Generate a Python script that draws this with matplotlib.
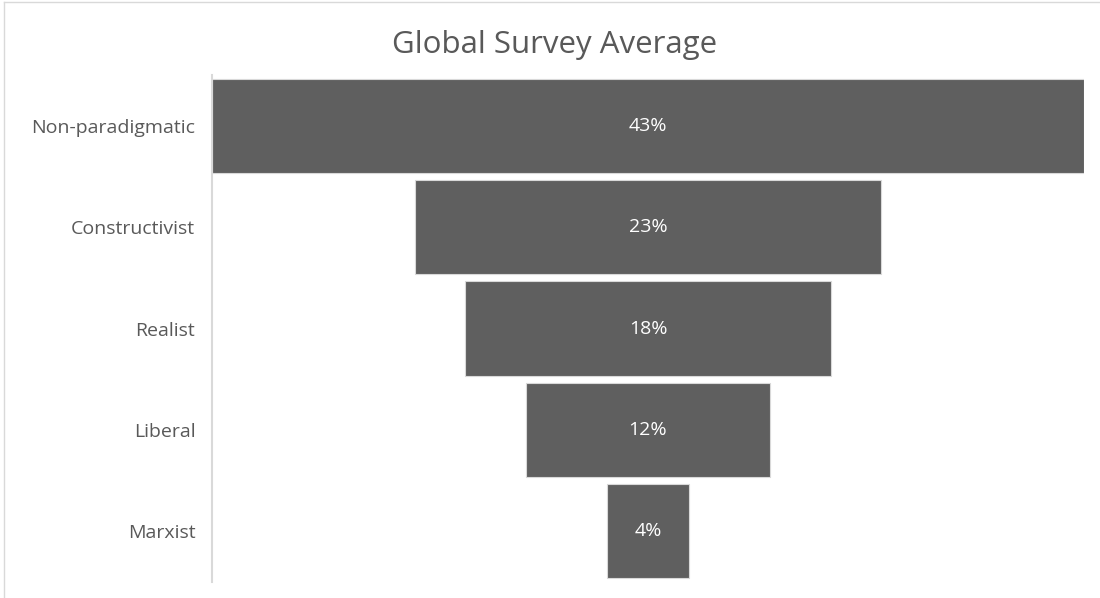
import matplotlib.pyplot as plt
from matplotlib.lines import Line2D

categories = ['Non-paradigmatic', 'Constructivist', 'Realist', 'Liberal', 'Marxist']
values = [43, 23, 18, 12, 4]

plt.rcParams['font.family'] = ['Open Sans', 'DejaVu Sans']

fig = plt.figure(figsize=(11, 5.98), dpi=100)
ax = fig.add_axes([212 / 1100, 1 - 582 / 598, (1084 - 212) / 1100, (582 - 75) / 598])

ypos = list(range(len(categories)))
lefts = [-v / 2 for v in values]
ax.barh(ypos, values, left=lefts, height=0.93, color='#5f5f5f',
        edgecolor='#d9d9d9', linewidth=0.8)

for y, v in zip(ypos, values):
    ax.text(0, y, f'{v}%', ha='center', va='center', color='white', fontsize=14)

ax.set_xlim(-max(values) / 2, max(values) / 2)
ax.set_ylim(len(categories) - 0.5, -0.5)
ax.set_yticks(ypos)
ax.set_yticklabels(categories, fontsize=14, color='#595959')
ax.tick_params(axis='y', length=0, pad=12)
ax.set_xticks([])
for s in ['top', 'right', 'bottom']:
    ax.spines[s].set_visible(False)
ax.spines['left'].set_color('#d9d9d9')
ax.spines['left'].set_linewidth(1.5)

fig.text(555 / 1100, 1 - 45 / 598, 'Global Survey Average', ha='center', va='center',
         fontsize=22.5, color='#595959')

# chart border: only top and left edges show
fig.lines.append(Line2D([4 / 1100, 4 / 1100], [0, 1 - 2 / 598], transform=fig.transFigure,
                        color='#d9d9d9', linewidth=1))
fig.lines.append(Line2D([4 / 1100, 1], [1 - 2 / 598, 1 - 2 / 598], transform=fig.transFigure,
                        color='#d9d9d9', linewidth=1))

fig.savefig('out.png', dpi=100)
